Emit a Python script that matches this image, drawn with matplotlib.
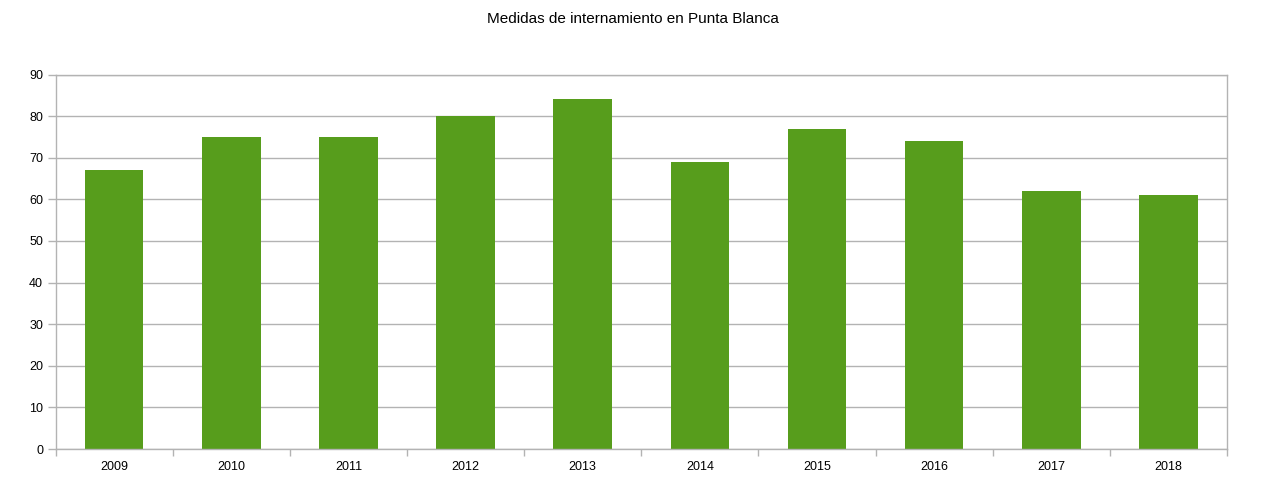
import numpy as np
import matplotlib
matplotlib.use("Agg")
import matplotlib.pyplot as plt

years = ["2009", "2010", "2011", "2012", "2013", "2014", "2015", "2016", "2017", "2018"]
internamientos = [67, 75, 75, 80, 84, 69, 77, 74, 62, 61]

plt.rcParams['font.family'] = ['Liberation Sans', 'DejaVu Sans']

fig = plt.figure(figsize=(12.65, 4.92), dpi=100)
ax = fig.add_axes([55.5 / 1265, 43 / 492, (1227 - 55.5) / 1265, (449 - 74.5) / 492])

x = np.arange(len(years))
ax.bar(x, internamientos, width=0.5, color='#579d1c', zorder=2)

ax.set_xlim(-0.5, len(years) - 0.5)
ax.set_ylim(0, 90)
ax.set_yticks(range(0, 91, 10))
ax.yaxis.grid(True, color='#b3b3b3', linewidth=1, zorder=0)

ax.set_xticks(x)
ax.set_xticklabels(years)
ax.set_xticks(np.arange(-0.5, len(years), 1), minor=True)
ax.tick_params(axis='x', which='major', length=0, pad=9, labelsize=9)
ax.tick_params(axis='x', which='minor', length=5, color='#b3b3b3', width=1)
ax.tick_params(axis='y', length=6, color='#b3b3b3', width=1, labelsize=9, pad=3)

for s in ax.spines.values():
    s.set_color('#b3b3b3')
    s.set_linewidth(1)

fig.text(0.5, 1 - 19 / 492, "Medidas de internamiento en Punta Blanca",
         ha='center', va='center', fontsize=11)

fig.savefig("out.png", dpi=100)
